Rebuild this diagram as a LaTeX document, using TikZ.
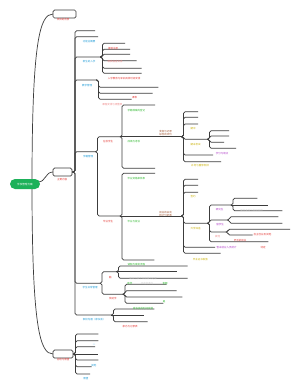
\documentclass[tikz,border=0pt]{standalone}
\usepackage{fontspec}
\newfontfamily\cjk{Noto Sans CJK SC}
\usetikzlibrary{backgrounds}
\definecolor{lineC}{HTML}{3C3C3C}
\definecolor{rootG}{HTML}{1DB15A}
\definecolor{cred}{HTML}{E53935}
\definecolor{ccyan}{HTML}{1E9BD7}
\definecolor{cgreen}{HTML}{2EB82E}
\definecolor{cbrown}{HTML}{A0522D}
\definecolor{cyellow}{HTML}{C9B000}
\definecolor{cpurple}{HTML}{B03CC8}
\definecolor{cpink}{HTML}{F08C8C}
\definecolor{cpale}{HTML}{CFCFCF}
\tikzset{
  conn/.style={draw=lineC, line width=0.7pt, rounded corners=1.6pt},
  curve/.style={draw=lineC, line width=0.7pt},
  txt/.style={inner sep=0pt, font=\cjk\fontsize{2.5}{3}\selectfont},
  topic/.style={draw=lineC, fill=white, line width=0.7pt, rounded corners=1.5pt, inner sep=0pt},
  rootbox/.style={fill=rootG, text=white, rounded corners=5pt, minimum width=30pt, minimum height=10pt, inner sep=0pt, font=\cjk\fontsize{2.6}{3}\selectfont},
}
\newcommand\kid[5]{\coordinate (#5) at (#4,#3);\draw[conn] (#1) -| (#2,#3) -- (#5);}
\newcommand\kidS[3]{\coordinate (#3) at (#2);\draw[conn] (#1) -- (#3);}
\begin{document}
\begin{tikzpicture}[x=1pt,y=-1pt]
\useasboundingbox (0,0) rectangle (300,384);
\coordinate (rc) at (32,184);
\coordinate (TBw) at (53,14);
\coordinate (BBw) at (53,354);
\coordinate (Rne) at (38,182);
\coordinate (MBw) at (53,172);
\coordinate (MBe) at (72,172);
\coordinate (BBe) at (73,354);
\begin{scope}[on background layer]
\fill[white] (0,0) rectangle (300,384);
\draw[curve] (rc) .. controls (32,40) and (40,14) .. (TBw);
\draw[curve] (rc) .. controls (32,328) and (40,354) .. (BBw);
\draw[curve] (Rne) .. controls (46,182) and (45,172) .. (MBw);
% main trunk
\kid{MBe}{75}{30.7}{95}{a}
\kid{MBe}{75}{36.7}{98}{b}
\kid{MBe}{75}{57}{100}{c}
\kid{MBe}{75}{80}{96}{d}
\kid{MBe}{75}{151.7}{95}{e}
\kid{MBe}{75}{283.3}{99.5}{f}
\kid{MBe}{75}{315}{111}{g}
% c
\kid{c}{102.5}{43.3}{125}{c1}
\kid{c}{102.5}{49.3}{130}{c2}
\kid{c}{102.5}{54.3}{130}{c3}
\kid{c}{102.5}{60.7}{136.7}{c4}
\kid{c}{102.5}{68.3}{141.7}{c5}
\kid{c}{102.5}{73.3}{141.7}{c6}
% d
\kid{d}{98.5}{87.3}{158.3}{d1}
\kid{d}{98.5}{93.3}{152.7}{d2}
\kid{d}{98.5}{99.3}{131.7}{d3}
% e
\kid{e}{97.5}{136.7}{119.5}{e1}
\kid{e}{97.5}{216}{119.5}{e2}
\kid{e1}{122}{105}{155}{e1a}
\kidS{e1}{181,136.7}{e1L}
\kid{e1}{122}{168.3}{155}{e1c}
\kid{e1L}{183.5}{111.7}{198}{e1La}
\kid{e1L}{183.5}{117.3}{198}{e1Lb}
\kid{e1L}{183.5}{124}{198}{e1Lc}
\kid{e1L}{183.5}{139.3}{207}{e1m}
\kid{e1L}{183.5}{155}{213}{e1Le}
\kid{e1L}{183.5}{161.7}{221}{e1Lf}
\kid{e1m}{209.5}{130.7}{229}{e1ma}
\kid{e1m}{209.5}{136}{229}{e1mb}
\kid{e1m}{209.5}{142.3}{224}{e1mc}
\kid{e1m}{209.5}{148.3}{236}{e1md}
\kid{e2}{122}{173.3}{155}{e2a}
\kidS{e2}{181,216}{e2L}
\kid{e2}{122}{260}{154.3}{e2c}
\kid{e2L}{183.5}{179.3}{198}{e2La}
\kid{e2L}{183.5}{185.3}{198}{e2Lb}
\kid{e2L}{183.5}{192.3}{198}{e2Lc}
\kid{e2L}{183.5}{223.3}{207}{e2m}
\kid{e2L}{183.5}{247.3}{215}{e2Le}
\kid{e2L}{183.5}{253.3}{220.7}{e2Lf}
\kid{e2m}{209.5}{205}{230.5}{p1}
\kid{e2m}{209.5}{220}{227}{p2}
\kid{e2m}{209.5}{232}{225.5}{p3}
\kid{e2m}{209.5}{241.7}{268.3}{p4}
\kid{p1}{233}{198.3}{257.3}{p1a}
\kidS{p1}{268.3,205}{p1b}
\kid{p1}{233}{210.7}{282.3}{p1c}
\kid{p2}{229.5}{216.7}{278.3}{p2a}
\kid{p2}{229.5}{223.3}{282.3}{p2b}
\kid{p3}{228}{229.3}{290}{p3a}
\kid{p3}{228}{235}{252.7}{p3b}
% f
\kid{f}{102}{271.7}{116}{f1}
\kid{f}{102}{294.3}{122.5}{f2}
\kid{f1}{118.5}{266}{187.7}{f1a}
\kidS{f1}{176.7,271.7}{f1b}
\kid{f1}{118.5}{278.3}{187.7}{f1c}
\kid{f2}{125}{284.3}{166.7}{f2a}
\kid{f2}{125}{290.7}{176.7}{f2b}
\kid{f2}{125}{297}{182.3}{f2c}
\kid{f2}{125}{303.3}{163.3}{f2d}
% g
\kid{g}{113.5}{309}{154.3}{ga}
\kidS{g}{144.3,315}{gb}
\kid{g}{113.5}{321.7}{147.7}{gc}
% bottom box
\kid{BBe}{75.5}{334}{98.3}{b1}
\kid{BBe}{75.5}{340.7}{98.3}{b2}
\kid{BBe}{75.5}{346.7}{95}{b3}
\kidS{BBe}{98.3,354}{b4}
\kid{BBe}{75.5}{360}{98.3}{b5}
\kid{BBe}{75.5}{366.7}{91.7}{b6}
\kid{BBe}{75.5}{374}{90}{b7}
\end{scope}
% topic boxes
\node[rootbox] (R) at (25,184) {学校管理方案};
\node[topic, minimum width=23pt, minimum height=8pt] (TB) at (64.5,14) {};
\node[topic, minimum width=19pt, minimum height=8pt] (MB) at (62.5,172) {};
\node[topic, minimum width=20pt, minimum height=8pt] (BB) at (63,354) {};
% texts
\node[txt,text=cred] (tTB) at (63,19.6) {项目的背景};
\node[txt,text=cred] (tMB) at (62,179.3) {主要内容};
\node[txt,text=cred] (tBB) at (63,359.6) {总结与展望};
\node[txt,text=ccyan] (tb) at (89,42) {功能总概要};
\node[txt,text=ccyan] (tc) at (89,62) {新生的入学};
\node[txt,text=cred] (tc1) at (113,48.3) {报到注册};
\node[txt,text=cpink] (tc4) at (115,61.7) {缴费宿舍安排};
\node[txt,text=cred] (tc6) at (124,78.3) {入学教育与军训具体时间安排};
\node[txt,text=ccyan] (td) at (87,86) {教学管理};
\node[txt,text=cred] (td3) at (134.5,97.7) {课表};
\node[txt,text=cpink] (td4) at (112.5,105) {课程安排与调整表};
\node[txt,text=ccyan] (te) at (88,157) {学籍管理};
\node[txt,text=cred] (te1t) at (108,142) {在校学生};
\node[txt,text=cred] (te2t) at (108,222) {毕业学生};
\node[txt,text=cgreen] (g1) at (136.5,111) {学籍档案的登记};
\node[txt,text=cgreen] (g2) at (134,142) {成绩与考核};
\node[txt,text=cgreen] (g3) at (136.5,179) {毕业资格审核表};
\node[txt,text=cgreen] (g4) at (134,222) {毕业与就业};
\node[txt,text=cbrown,align=center] (br1) at (165.5,133) {奖惩与记录\\综合的评价};
\node[txt,text=cbrown,align=center] (br2) at (165.5,214) {就业的去向\\统计分析表};
\node[txt,text=cyellow] (y1) at (193,129) {期中};
\node[txt,text=cyellow] (y2) at (195.5,145) {期末考试};
\node[txt,text=cyellow] (y3) at (200,166) {补考与重修安排};
\node[txt,text=cyellow] (y4) at (193,197) {签约};
\node[txt,text=cyellow] (y5) at (195.5,228.3) {升学深造};
\node[txt,text=cyellow] (y6) at (200.5,259.3) {毕业证书发放};
\node[txt,text=cpurple] (pu1) at (222,153.7) {学分与绩点};
\node[txt,text=cpurple] (pu2) at (219.5,210) {研究生};
\node[txt,text=cpurple] (pu3) at (220,225) {留学生};
\node[txt,text=cpurple] (pu4) at (226.5,247.3) {暂未就业人员统计};
\node[txt,text=cpink] (pk1) at (217.5,236.7) {其他};
\node[txt,text=cred] (r1) at (262.5,234.3) {自主创业及其他};
\node[txt,text=cred] (r2) at (240,241) {灵活的就业};
\node[txt,text=cred] (r3) at (263,247.3) {待定};
\node[txt,text=cpale] (pa1) at (251.5,211) {国内高校与科研院所};
\node[txt,text=ccyan] (tf) at (90,288) {学生日常管理};
\node[txt,text=cred] (tf1) at (110.5,278) {勤};
\node[txt,text=cgreen] (g5) at (136.5,265) {请假与审批流程};
\node[txt,text=cpale] (pa2) at (143,279) {晚归与夜不归宿情况记录};
\node[txt,text=cred] (tf2) at (113,299) {奖助学};
\node[txt,text=cgreen] (g6) at (130,284) {助学};
\node[txt,text=cpale] (pa3) at (147,284) {评定标准与};
\node[txt,text=cgreen] (g7) at (165,284) {金额};
\node[txt,text=cgreen] (g8) at (164,301.7) {是};
\node[txt,text=ccyan] (tg) at (94,319.5) {家校沟通（家长会）};
\node[txt,text=cgreen] (g9) at (143,308.3) {家长会的时间安排};
\node[txt,text=cred] (tg3) at (130,326.7) {家访与记录表};
\node[txt,text=ccyan] (bb3) at (94,344.5) {一};
\node[txt,text=ccyan] (bb6) at (94,365.7) {其他};
\node[txt,text=ccyan] (bb7) at (86,379) {展望};
\end{tikzpicture}
\end{document}
